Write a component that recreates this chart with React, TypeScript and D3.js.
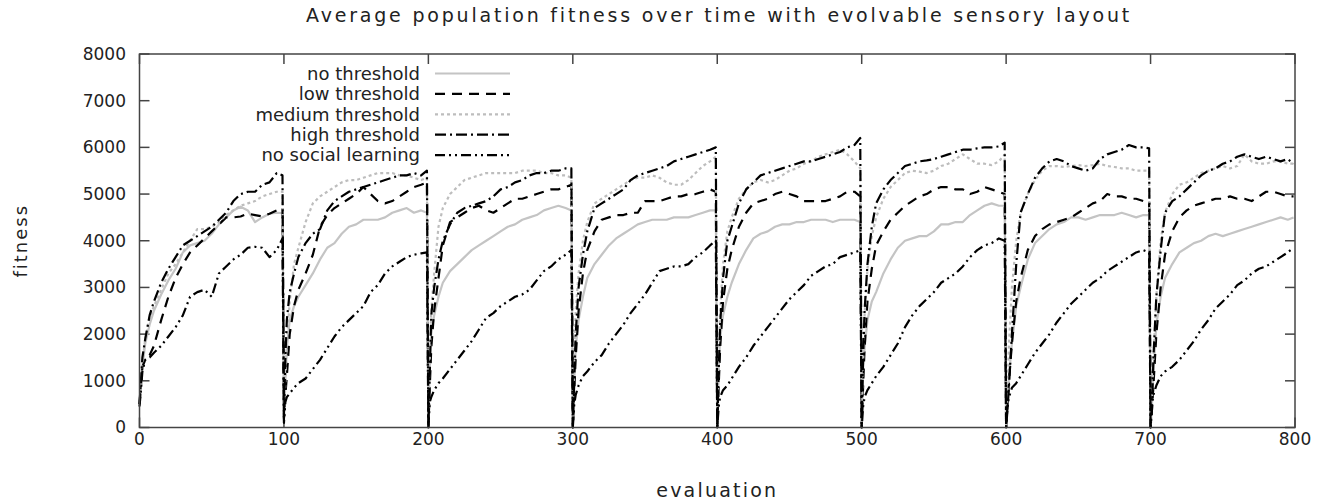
import React from "react";
import * as d3 from "d3";

// evaluation offsets inside each 100-evaluation block
const offsets = [0, 1, 2, 4, 7, 10, 15, 20, 25, 30, 35, 40, 45, 50, 55, 60, 65, 70, 75, 80, 85, 90, 95, 99];

const noThreshold = [
  [500, 900, 1300, 1800, 2200, 2500, 2850, 3150, 3400, 3750, 3900, 3950, 4000, 4150, 4350, 4500, 4650, 4730, 4650, 4400, 4500, 4580, 4600, 4590],
  [150, 1000, 1700, 2300, 2600, 2800, 3050, 3300, 3600, 3850, 3950, 4150, 4300, 4350, 4450, 4450, 4450, 4500, 4600, 4650, 4700, 4600, 4650, 4600],
  [0, 1600, 2000, 2400, 2800, 3100, 3350, 3500, 3650, 3800, 3900, 4000, 4100, 4200, 4300, 4350, 4450, 4500, 4550, 4650, 4700, 4750, 4700, 4650],
  [0, 1000, 1700, 2300, 2800, 3200, 3500, 3700, 3900, 4050, 4150, 4250, 4350, 4400, 4450, 4450, 4450, 4500, 4500, 4500, 4550, 4600, 4650, 4650],
  [0, 1300, 1900, 2400, 2800, 3100, 3500, 3800, 4050, 4150, 4200, 4300, 4350, 4350, 4400, 4400, 4450, 4450, 4450, 4400, 4450, 4450, 4450, 4400],
  [0, 1300, 1700, 2300, 2700, 2900, 3300, 3600, 3850, 4000, 4050, 4100, 4100, 4200, 4350, 4350, 4400, 4400, 4550, 4650, 4750, 4800, 4750, 4750],
  [0, 600, 1100, 1800, 2600, 3000, 3600, 3950, 4100, 4250, 4350, 4400, 4500, 4500, 4450, 4500, 4550, 4550, 4550, 4600, 4550, 4500, 4550, 4550],
  [0, 500, 1200, 2200, 2800, 3200, 3500, 3750, 3850, 3950, 4000, 4100, 4150, 4100, 4150, 4200, 4250, 4300, 4350, 4400, 4450, 4500, 4450, 4500],
];

const lowThreshold = [
  [500, 900, 1300, 1450, 1550, 1750, 2300, 2800, 3200, 3500, 3750, 3900, 4050, 4200, 4350, 4500, 4500, 4520, 4580, 4550, 4520, 4580, 4650, 4700],
  [200, 700, 1100, 2000, 2600, 2950, 3300, 3700, 4300, 4550, 4700, 4800, 4900, 5000, 5150, 5000, 4850, 4800, 4850, 4950, 5050, 5150, 5200, 5250],
  [0, 900, 1700, 2500, 3200, 3900, 4400, 4500, 4600, 4700, 4750, 4650, 4600, 4700, 4800, 4900, 4900, 4950, 5000, 5050, 5100, 5100, 5150, 5200],
  [0, 800, 1500, 2500, 3300, 3800, 4200, 4450, 4500, 4550, 4550, 4600, 4600, 4850, 4850, 4850, 4900, 4950, 4950, 5000, 5000, 5050, 5100, 5050],
  [0, 900, 1700, 2700, 3400, 3800, 4300, 4600, 4800, 4850, 4900, 5000, 5050, 5000, 4950, 4850, 4850, 4850, 4850, 4900, 4950, 5050, 5050, 4950],
  [0, 900, 1700, 2700, 3400, 3900, 4200, 4450, 4600, 4750, 4850, 4950, 5000, 5100, 5150, 5150, 5100, 5100, 5000, 5050, 5150, 5100, 5050, 5000],
  [0, 500, 1000, 1800, 2700, 3200, 3800, 4100, 4250, 4350, 4400, 4450, 4500, 4600, 4700, 4800, 4850, 5000, 4950, 4950, 4900, 4900, 4850, 4850],
  [0, 400, 900, 2000, 3000, 3700, 4200, 4500, 4650, 4750, 4800, 4850, 4900, 4900, 4950, 4900, 4900, 4850, 4950, 5050, 5050, 5000, 4950, 4950],
];

const mediumThreshold = [
  [500, 900, 1400, 1900, 2350, 2600, 2950, 3300, 3500, 3750, 4000, 4250, 4250, 4300, 4400, 4550, 4650, 4750, 4800, 4850, 4950, 5000, 5050, 5050],
  [200, 1000, 1800, 2700, 3500, 3850, 4400, 4800, 4950, 5050, 5150, 5250, 5300, 5300, 5350, 5400, 5450, 5450, 5450, 5400, 5400, 5350, 5300, 5350],
  [0, 1500, 2500, 3300, 4300, 4700, 5000, 5150, 5300, 5350, 5400, 5450, 5450, 5450, 5450, 5450, 5500, 5500, 5500, 5450, 5450, 5400, 5400, 5350],
  [0, 1500, 2500, 3300, 4000, 4400, 4800, 4900, 5000, 5100, 5200, 5300, 5350, 5350, 5400, 5350, 5250, 5200, 5200, 5300, 5450, 5600, 5700, 5800],
  [0, 1500, 2500, 3500, 4200, 4500, 4900, 5100, 5250, 5300, 5250, 5300, 5400, 5500, 5550, 5650, 5700, 5800, 5850, 5900, 5950, 5850, 5700, 5550],
  [0, 1400, 2400, 3400, 4100, 4500, 4900, 5150, 5300, 5450, 5500, 5480, 5450, 5500, 5600, 5650, 5750, 5850, 5750, 5650, 5650, 5620, 5700, 5850],
  [0, 800, 1800, 3000, 4000, 4600, 5000, 5300, 5500, 5600, 5600, 5580, 5600, 5620, 5600, 5620, 5650, 5600, 5580, 5550, 5550, 5500, 5500, 5500],
  [0, 600, 1500, 2800, 4000, 4600, 5000, 5200, 5250, 5350, 5450, 5500, 5550, 5600, 5550, 5600, 5850, 5700, 5650, 5650, 5700, 5700, 5650, 5650],
];

const highThreshold = [
  [500, 1000, 1500, 1900, 2400, 2700, 3100, 3400, 3650, 3900, 4000, 4100, 4200, 4300, 4450, 4600, 4850, 5000, 5050, 5050, 5200, 5250, 5450, 5400],
  [200, 1500, 2300, 2900, 3300, 3650, 3950, 4150, 4250, 4650, 4850, 4950, 5050, 5100, 5150, 5200, 5250, 5300, 5350, 5400, 5400, 5450, 5400, 5500],
  [0, 1200, 2400, 3000, 3600, 4000, 4350, 4600, 4700, 4750, 4800, 4850, 4950, 5100, 5150, 5250, 5300, 5400, 5450, 5450, 5500, 5500, 5550, 5550],
  [0, 1000, 2000, 3000, 3700, 4200, 4700, 4800, 4900, 5000, 5100, 5300, 5400, 5450, 5500, 5550, 5600, 5700, 5750, 5800, 5850, 5900, 5950, 6000],
  [0, 1200, 2200, 3200, 4000, 4300, 4800, 5100, 5250, 5400, 5450, 5500, 5550, 5600, 5650, 5700, 5700, 5750, 5800, 5850, 5900, 6000, 6050, 6200],
  [0, 1500, 2500, 3500, 4300, 4800, 5100, 5300, 5450, 5600, 5650, 5700, 5720, 5750, 5800, 5850, 5900, 5950, 5950, 5980, 6000, 6000, 6020, 6100],
  [0, 400, 900, 2000, 3500, 4600, 5000, 5350, 5550, 5700, 5750, 5700, 5600, 5550, 5500, 5550, 5750, 5850, 5900, 5950, 6050, 6000, 6000, 5980],
  [0, 400, 1500, 2800, 3800, 4600, 4850, 4950, 5100, 5250, 5400, 5500, 5550, 5650, 5700, 5800, 5850, 5800, 5750, 5800, 5750, 5700, 5750, 5650],
];

const noSocialLearning = [
  [450, 800, 1200, 1450, 1500, 1600, 1750, 1950, 2150, 2400, 2800, 2900, 2950, 2800, 3300, 3450, 3600, 3700, 3850, 3870, 3850, 3650, 3800, 4050],
  [100, 550, 650, 730, 850, 950, 1050, 1250, 1450, 1700, 1950, 2150, 2300, 2450, 2600, 2900, 3050, 3300, 3450, 3550, 3650, 3700, 3730, 3750],
  [0, 550, 650, 800, 950, 1050, 1250, 1450, 1650, 1850, 2100, 2350, 2450, 2600, 2700, 2800, 2850, 2950, 3150, 3350, 3450, 3600, 3700, 3800],
  [0, 500, 700, 900, 1100, 1200, 1400, 1550, 1800, 2000, 2200, 2450, 2650, 2850, 3100, 3350, 3400, 3450, 3450, 3500, 3650, 3750, 3900, 4000],
  [0, 450, 650, 800, 900, 1050, 1300, 1500, 1750, 1950, 2150, 2350, 2550, 2750, 2900, 3050, 3250, 3350, 3450, 3500, 3650, 3700, 3750, 3800],
  [0, 450, 650, 800, 950, 1100, 1300, 1550, 1800, 2150, 2400, 2600, 2750, 2900, 3100, 3200, 3300, 3450, 3650, 3800, 3900, 3950, 4050, 4000],
  [0, 500, 650, 850, 950, 1100, 1350, 1600, 1800, 2000, 2250, 2450, 2650, 2800, 2950, 3100, 3200, 3350, 3450, 3550, 3650, 3750, 3800, 3750],
  [0, 500, 700, 900, 1100, 1200, 1300, 1450, 1650, 1850, 2100, 2300, 2550, 2700, 2850, 3050, 3150, 3300, 3400, 3450, 3550, 3650, 3750, 3850],
];

const seriesNames = ["no threshold", "low threshold", "medium threshold", "high threshold", "no social learning"];
const xTicks = [0, 100, 200, 300, 400, 500, 600, 700, 800];
const yTicks = [0, 1000, 2000, 3000, 4000, 5000, 6000, 7000, 8000];

const styles = [
  { color: "#c4c4c4", dash: null, width: 2.2 },
  { color: "#000", dash: "10,7", width: 2.2 },
  { color: "#bdbdbd", dash: "3,3", width: 2.2 },
  { color: "#000", dash: "11,4,2,4", width: 2.2 },
  { color: "#000", dash: "10,4,2,4,2,4", width: 2.2 },
];

const W = 1330;
const H = 503;
const left = 139.5, right = 1295, top = 54, bottom = 427.5;
const font = "DejaVu Sans, Verdana, sans-serif";

export default function App() {
  const x = d3.scaleLinear().domain([0, 800]).range([left, right]);
  const y = d3.scaleLinear().domain([0, 8000]).range([bottom, top]);

  const allSeries = [noThreshold, lowThreshold, mediumThreshold, highThreshold, noSocialLearning];
  const lines = allSeries.map((epochs) =>
    epochs.flatMap((vals, e) => vals.map((v, i) => ({ x: e * 100 + offsets[i], y: v })))
  );
  const line = d3
    .line<{ x: number; y: number }>()
    .x((d) => x(d.x))
    .y((d) => y(d.y));

  const tickLen = 10;
  const frame = "#444";

  return (
    <div style={{ position: "fixed", left: 0, top: 0 }}>
      <svg width={W} height={H} style={{ display: "block", background: "#fff" }}>
        <text
          x={719}
          y={22}
          textAnchor="middle"
          fontFamily={font}
          fontSize={19}
          letterSpacing={2.8}
          fill="#222"
        >
          Average population fitness over time with evolvable sensory layout
        </text>

        {/* ticks */}
        {yTicks.map((t) => (
          <g key={"y" + t}>
            <line x1={left} x2={left + tickLen} y1={y(t)} y2={y(t)} stroke={frame} strokeWidth={1.5} />
            <line x1={right} x2={right - tickLen} y1={y(t)} y2={y(t)} stroke={frame} strokeWidth={1.5} />
            <text x={126} y={y(t)} dy="0.35em" textAnchor="end" fontFamily={font} fontSize={17} fill="#222">
              {t}
            </text>
          </g>
        ))}
        {xTicks.map((t) => (
          <g key={"x" + t}>
            <line x1={x(t)} x2={x(t)} y1={bottom} y2={bottom - tickLen} stroke={frame} strokeWidth={1.5} />
            <line x1={x(t)} x2={x(t)} y1={top} y2={top + tickLen} stroke={frame} strokeWidth={1.5} />
            <text x={x(t)} y={445} textAnchor="middle" fontFamily={font} fontSize={17} fill="#222">
              {t}
            </text>
          </g>
        ))}

        {/* series */}
        {lines.map((pts, i) => (
          <path
            key={i}
            d={line(pts) || ""}
            fill="none"
            stroke={styles[i].color}
            strokeWidth={styles[i].width}
            strokeDasharray={styles[i].dash || undefined}
            strokeLinejoin="round"
          />
        ))}

        {/* legend */}
        {seriesNames.map((name, i) => {
          const ly = 73.5 + i * 20.4;
          return (
            <g key={name}>
              <text x={420} y={ly} dy="0.35em" textAnchor="end" fontFamily={font} fontSize={18} fill="#222">
                {name}
              </text>
              <line
                x1={435}
                x2={510}
                y1={ly}
                y2={ly}
                stroke={styles[i].color}
                strokeWidth={styles[i].width}
                strokeDasharray={styles[i].dash || undefined}
              />
            </g>
          );
        })}

        {/* frame */}
        <rect x={left} y={top} width={right - left} height={bottom - top} fill="none" stroke={frame} strokeWidth={1.5} />

        <text
          transform={`translate(27,${(top + bottom) / 2}) rotate(-90)`}
          textAnchor="middle"
          fontFamily={font}
          fontSize={18}
          letterSpacing={2}
          fill="#222"
        >
          fitness
        </text>
        <text
          x={(left + right) / 2}
          y={497}
          textAnchor="middle"
          fontFamily={font}
          fontSize={19}
          letterSpacing={2.2}
          fill="#222"
        >
          evaluation
        </text>
      </svg>
    </div>
  );
}
